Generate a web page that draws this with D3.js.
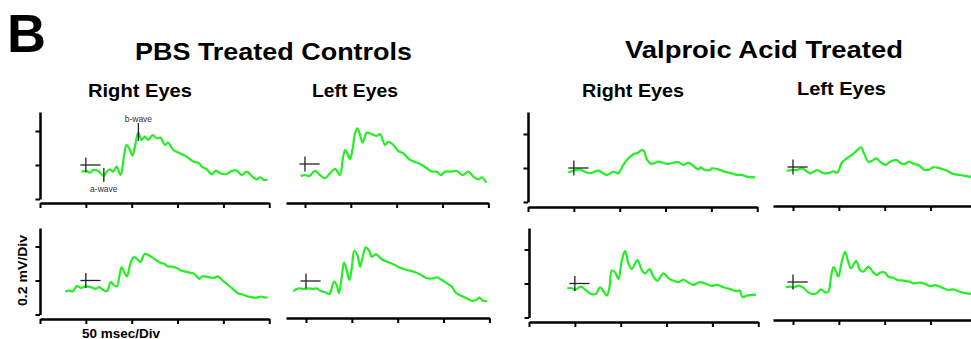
<!DOCTYPE html>
<html>
<head>
<meta charset="utf-8">
<script src="https://cdn.jsdelivr.net/npm/d3@7"></script>
<style>
  html, body { margin: 0; padding: 0; background: #fff; }
  svg { display: block; }
  text { font-family: "Liberation Sans", Arial, Helvetica, sans-serif; }
</style>
</head>
<body>
<svg id="chart" width="971" height="339"></svg>
<script>
// ERG traces: [time after flash (ms), amplitude (mV)]
const pbsRightTop = [[-4.7,-0.039],[0.7,-0.035],[4.4,-0.045],[8,-0.029],[13.4,-0.035],[19.7,-0.065],[22.6,-0.039],[26.2,-0.025],[29.8,-0.039],[33.5,-0.010],[37.9,-0.059],[41.5,0.049],[44.4,0.118],[47.3,0.098],[50.9,0.055],[53.5,0.108],[57.1,0.190],[60.8,0.147],[64.4,0.167],[68,0.147],[72.8,0.176],[77.2,0.157],[81.5,0.161],[86.2,0.118],[89.9,0.131],[95.3,0.088],[102.6,0.069],[109.9,0.049],[117.2,0.020],[123.7,0.010],[126.3,-0.010],[131.8,-0.025],[137.3,-0.055],[141.9,-0.033],[146.3,-0.049],[153.6,-0.053],[159,-0.035],[164.5,-0.033],[170,-0.059],[175.4,-0.039],[180.9,-0.065],[186.4,-0.084],[190,-0.072],[194,-0.088],[198,-0.085]];
const pbsLeftTop = [[-4.7,-0.071],[0,-0.065],[4.7,-0.071],[10.9,-0.041],[16.4,-0.065],[21.8,-0.084],[27.3,-0.055],[32.8,-0.029],[38.2,-0.065],[41.1,0.024],[43.7,0.082],[46.2,0.063],[49.1,0.028],[52,0.092],[54.6,0.181],[57.1,0.210],[60,0.171],[62.9,0.125],[67.4,0.184],[72.8,0.176],[78.3,0.165],[81.9,0.175],[87.3,0.112],[90.9,0.131],[96.4,0.112],[101.9,0.076],[107.3,0.063],[114.6,0.024],[121.9,0.008],[127.4,-0.006],[132.9,-0.025],[138.3,-0.045],[143.8,-0.045],[148.2,-0.065],[152.8,-0.045],[160.1,-0.045],[165.6,-0.041],[172.1,-0.065],[178.3,-0.045],[183.8,-0.075],[189.2,-0.090],[192.9,-0.078],[197.6,-0.110]];
const vpaRightTop = [[-6.2,-0.027],[-0.7,-0.016],[6.6,-0.008],[12,-0.022],[17.5,-0.031],[26.6,-0.016],[32,-0.031],[36.4,-0.041],[42.9,-0.022],[48.4,-0.031],[53.9,0.018],[59.4,0.057],[64.8,0.081],[70.2,0.090],[73.9,0.106],[76.4,0.100],[80,0.047],[84.8,0.024],[92.1,0.037],[101.2,0.024],[108.4,0.031],[113.9,0.035],[119.3,0.018],[124.8,0.031],[130.3,0.012],[135.8,-0.008],[138.3,0.004],[143,-0.012],[148.5,-0.012],[150.3,-0.002],[157.5,-0.008],[164.8,-0.022],[172.1,-0.031],[177.6,-0.041],[183.1,-0.041],[188.5,-0.051],[197.6,-0.055]];
const vpaLeftTop = [[-6.9,-0.022],[-1.4,-0.018],[4,-0.018],[9.5,-0.008],[13.1,-0.018],[18.6,-0.037],[26.6,-0.018],[33.1,-0.037],[40.4,-0.033],[44,-0.025],[48.4,-0.033],[53.2,0.025],[58.6,0.051],[64.1,0.071],[69.5,0.096],[74.2,0.116],[77.5,0.080],[82.2,0.031],[85.9,0.035],[90.6,0.051],[95,0.031],[101.2,0.012],[105.9,0.031],[113.2,0.041],[117.6,0.022],[122.3,0.018],[125.9,0.031],[132.1,0.018],[136.8,0.012],[142.3,-0.014],[147.7,-0.018],[152.5,-0.002],[160.5,-0.008],[167.8,-0.022],[175,-0.041],[182.3,-0.047],[193.2,-0.057],[200,-0.060]];
const pbsRightBottom = [[-22.6,-0.065],[-18.2,-0.059],[-14.5,-0.065],[-9.8,-0.033],[-5.5,-0.043],[0,-0.035],[5.5,-0.039],[10.9,-0.049],[14.5,-0.039],[18.2,-0.053],[22.9,-0.063],[27.3,-0.010],[30.9,-0.029],[33.8,-0.035],[36.4,0.020],[38.9,0.078],[41.8,0.049],[44.8,0.024],[48.4,0.098],[52.1,0.137],[55.7,0.127],[59.3,0.108],[64.4,0.157],[69.1,0.147],[74.6,0.127],[80,0.108],[85.5,0.098],[89.2,0.082],[94.6,0.082],[98.3,0.075],[103.7,0.059],[111,0.049],[118.2,0.039],[123.7,0.010],[127.4,0.025],[132.8,0.020],[140,0.016],[143.8,0.024],[149.2,0],[154.7,-0.025],[160.2,-0.049],[165.6,-0.075],[171.1,-0.082],[176.5,-0.094],[180.1,-0.098],[185.6,-0.102],[191,-0.094],[195,-0.100],[198,-0.098]];
const pbsLeftBottom = [[-13.9,-0.059],[-8.4,-0.043],[-2.9,-0.047],[2.5,-0.043],[8,-0.047],[11.7,-0.043],[15.3,-0.057],[20.7,-0.066],[25.5,-0.076],[30.6,-0.004],[33.5,-0.024],[36,-0.072],[39,0.025],[41.5,0.108],[44.4,0.065],[47.3,0.006],[49.9,0.075],[52.7,0.178],[56,0.153],[59,0.084],[61.9,0.143],[65.2,0.198],[68.8,0.178],[71.7,0.143],[76.4,0.157],[82.6,0.128],[88.1,0.114],[95.3,0.098],[102.6,0.078],[109.9,0.065],[117.1,0.055],[124.5,0.039],[127.4,0.029],[131.8,0.016],[139,0.016],[142.7,0.022],[148.1,0.006],[153.6,-0.014],[159,-0.033],[163.8,-0.072],[170,-0.088],[175.4,-0.102],[180.9,-0.116],[185.6,-0.112],[189.2,-0.098],[192.9,-0.116],[197.3,-0.118]];
const vpaRightBottom = [[-8.4,-0.028],[-3,-0.028],[0.4,-0.037],[6.5,-0.018],[12.3,-0.041],[17.4,-0.061],[23.2,-0.061],[27.5,-0.022],[31.9,-0.051],[34.8,-0.071],[37.7,-0.022],[40.3,0.076],[43.9,0.065],[47.5,0.026],[51.2,0.135],[54.8,0.192],[58.4,0.119],[62.1,0.085],[68.2,0.138],[73,0.079],[76.6,0.059],[81.3,0.085],[85.7,0.041],[90,0.016],[96.6,0.059],[102.1,0.032],[107.5,0.016],[113,0.008],[118.5,0.022],[123.9,0.006],[129.4,-0.008],[135.9,0.008],[142.1,0],[149.4,-0.014],[154.9,-0.008],[162.1,-0.022],[169.4,-0.033],[176,-0.045],[179.6,-0.041],[182.9,-0.080],[187.6,-0.071],[197.5,-0.065]];
const vpaLeftBottom = [[-8,-0.031],[-3.3,-0.027],[0.4,-0.033],[5.8,-0.021],[11.2,-0.033],[16.7,-0.061],[23.3,-0.071],[26.6,-0.063],[30.6,-0.043],[35,-0.061],[38.6,-0.057],[41.2,0.021],[44,0.087],[47,0.061],[49.5,0.031],[53.2,0.119],[56.8,0.178],[59.7,0.129],[63.3,0.080],[68.8,0.125],[73.1,0.071],[76.8,0.061],[82.2,0.090],[87.7,0.055],[91.4,0.041],[95,0.055],[100.4,0.055],[104,0.031],[109.5,0.025],[113.9,0.012],[120.4,0.008],[127,0.002],[131.4,-0.008],[138.6,-0.004],[144.1,-0.012],[150.3,-0.024],[155,-0.018],[162.3,-0.033],[169.5,-0.047],[175,-0.043],[181.6,-0.057],[189.6,-0.067],[194.3,-0.071],[200,-0.075]];

// Axis ticks: 50 ms per division, 0.2 mV per division
const timeTicks = [-50, 0, 50, 100, 150, 200];
const voltTicks = [-0.2, 0, 0.2];

const groupTitles = ["PBS Treated Controls", "Valproic Acid Treated"];
const eyeTitles = ["Right Eyes", "Left Eyes", "Right Eyes", "Left Eyes"];

const PX_PER_MS = 0.917;
const PX_PER_MV = 170;
const TRACE_COLOR = "#22f022";

const panels = [
  { data: pbsRightTop,    left: 40,  tStart: -50,   y0: 165,   axisY: 203, yAxisTop: 112, waves: true },
  { data: pbsLeftTop,     left: 286, tStart: -20.7, y0: 164,   axisY: 203 },
  { data: vpaRightTop,    left: 528, tStart: -50,   y0: 168,   axisY: 207, yAxisTop: 112 },
  { data: vpaLeftTop,     left: 773, tStart: -21.8, y0: 167,   axisY: 206 },
  { data: pbsRightBottom, left: 40,  tStart: -50,   y0: 280.5, axisY: 319, yAxisTop: 228 },
  { data: pbsLeftBottom,  left: 286, tStart: -21.8, y0: 281,   axisY: 318 },
  { data: vpaRightBottom, left: 529, tStart: -50,   y0: 283.5, axisY: 322, yAxisTop: 228 },
  { data: vpaLeftBottom,  left: 773, tStart: -21.8, y0: 282,   axisY: 320 }
];

const svg = d3.select("#chart");

function styleAxis(g) {
  g.selectAll(".domain").attr("stroke", "#000").attr("stroke-width", 2.5);
  g.selectAll(".tick line").attr("stroke", "#000").attr("stroke-width", 2);
  g.selectAll(".tick text").remove();
}

panels.forEach(p => {
  const g = svg.append("g");
  const x = d3.scaleLinear()
    .domain([p.tStart, 200])
    .range([p.left, p.left + (200 - p.tStart) * PX_PER_MS]);
  const y = d3.scaleLinear()
    .domain([0, 0.2])
    .range([p.y0, p.y0 - 0.2 * PX_PER_MV]);

  // time axis
  g.append("g")
    .attr("transform", `translate(0,${p.axisY})`)
    .call(d3.axisBottom(x)
      .tickValues(timeTicks.filter(t => t >= p.tStart))
      .tickSize(5).tickSizeOuter(0).tickFormat(""))
    .call(styleAxis);

  // amplitude axis (right-eye panels only)
  if (p.yAxisTop !== undefined) {
    const yAxisScale = d3.scaleLinear()
      .domain([-0.2, y.invert(p.yAxisTop)])
      .range([y(-0.2), p.yAxisTop]);
    g.append("g")
      .attr("transform", `translate(${p.left},0)`)
      .call(d3.axisLeft(yAxisScale)
        .tickValues(voltTicks)
        .tickSize(4.5).tickSizeOuter(0).tickFormat(""))
      .call(styleAxis);
  }

  // trace
  const line = d3.line()
    .x(d => x(d[0]))
    .y(d => y(d[1]))
    .curve(d3.curveCatmullRom.alpha(0.5));
  g.append("path")
    .datum(p.data)
    .attr("fill", "none")
    .attr("stroke", TRACE_COLOR)
    .attr("stroke-width", 2.2)
    .attr("stroke-linejoin", "round")
    .attr("d", line);

  // flash onset / baseline cross
  g.append("line")
    .attr("x1", x(-6)).attr("x2", x(16))
    .attr("y1", y(0)).attr("y2", y(0))
    .attr("stroke", "#222").attr("stroke-width", 1.3);
  g.append("line")
    .attr("x1", x(0)).attr("x2", x(0))
    .attr("y1", y(-0.044)).attr("y2", y(0.044))
    .attr("stroke", "#222").attr("stroke-width", 1.3);

  // a-wave / b-wave markers
  if (p.waves) {
    g.append("line")
      .attr("x1", x(57.3)).attr("x2", x(57.3))
      .attr("y1", y(0.247)).attr("y2", y(0.141))
      .attr("stroke", "#222").attr("stroke-width", 1.3);
    g.append("text")
      .attr("x", x(57.3)).attr("y", 121.5)
      .attr("text-anchor", "middle")
      .attr("font-size", 8.5).attr("fill", "#333")
      .text("b-wave");
    g.append("line")
      .attr("x1", x(19.6)).attr("x2", x(19.6))
      .attr("y1", y(-0.018)).attr("y2", y(-0.1))
      .attr("stroke", "#222").attr("stroke-width", 1.3);
    g.append("text")
      .attr("x", x(19.6)).attr("y", 191.5)
      .attr("text-anchor", "middle")
      .attr("font-size", 8.5).attr("fill", "#333")
      .text("a-wave");
  }
});

// panel letter and titles
svg.append("text")
  .attr("x", 7).attr("y", 52)
  .attr("font-size", 54).attr("font-weight", "bold")
  .text("B");

const titleSpecs = [
  { text: groupTitles[0], x: 135, y: 60,   len: 277, size: 24 },
  { text: groupTitles[1], x: 625, y: 57.5, len: 278, size: 24.5 },
  { text: eyeTitles[0],   x: 88,  y: 97,   len: 104, size: 17.5 },
  { text: eyeTitles[1],   x: 312, y: 97,   len: 86,  size: 17.5 },
  { text: eyeTitles[2],   x: 582, y: 97,   len: 102, size: 17.5 },
  { text: eyeTitles[3],   x: 797, y: 95,   len: 89,  size: 17.5 }
];
titleSpecs.forEach(t => {
  svg.append("text")
    .attr("x", t.x).attr("y", t.y)
    .attr("font-size", t.size).attr("font-weight", "bold")
    .attr("textLength", t.len).attr("lengthAdjust", "spacingAndGlyphs")
    .text(t.text);
});

// scale labels
svg.append("text")
  .attr("transform", "translate(27,270.5) rotate(-90)")
  .attr("text-anchor", "middle")
  .attr("font-size", 13).attr("font-weight", "bold")
  .attr("textLength", 71).attr("lengthAdjust", "spacingAndGlyphs")
  .text("0.2 mV/Div");

svg.append("text")
  .attr("x", 82).attr("y", 337.5)
  .attr("font-size", 13).attr("font-weight", "bold")
  .attr("textLength", 78).attr("lengthAdjust", "spacingAndGlyphs")
  .text("50 msec/Div");
</script>
</body>
</html>
